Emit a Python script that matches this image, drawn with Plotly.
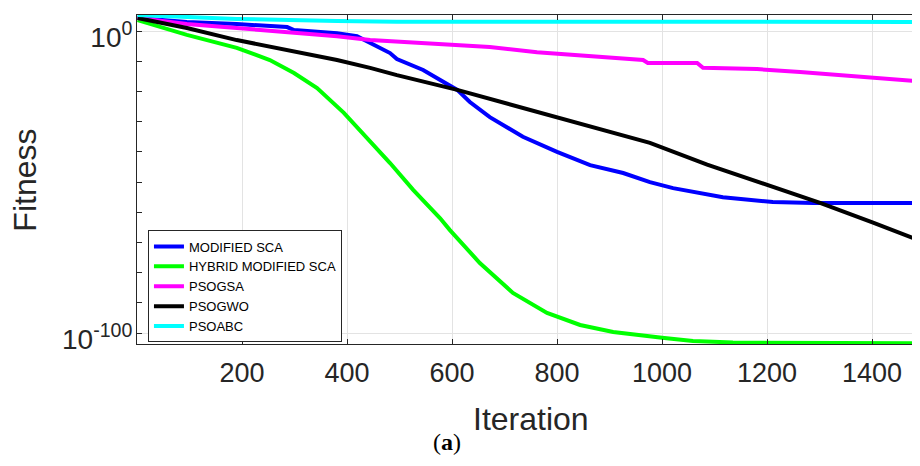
import plotly.graph_objects as go

# ---- data (fitness shown on a log axis, stored as log10) ----
series_names = ["MODIFIED SCA", "HYBRID MODIFIED SCA", "PSOGSA", "PSOGWO", "PSOABC"]

sca_iter = [1, 95, 190, 286, 299, 381, 419, 444, 482, 495, 545, 610, 634, 672, 735, 800, 863, 926, 977, 1021, 1116, 1211, 1288, 1500]
sca_log = [4.3, 3.0, 2.3, 1.3, 0.3, -0.7, -1.7, -4.0, -7.3, -9.3, -12.9, -19.5, -23.5, -28.5, -35.0, -40.0, -44.4, -47.0, -50.0, -52.0, -55.0, -56.6, -56.9, -56.9]

hyb_iter = [1, 95, 190, 253, 299, 343, 394, 438, 482, 526, 577, 596, 653, 716, 781, 844, 907, 1000, 1059, 1135, 1250, 1500]
hyb_log = [3.6, -1.3, -5.6, -9.6, -13.9, -18.9, -27.1, -35.4, -43.7, -52.6, -61.9, -65.9, -76.8, -86.7, -93.3, -97.3, -99.6, -101.5, -102.6, -103.1, -103.3, -103.4]

gsa_iter = [1, 95, 190, 286, 381, 444, 545, 672, 762, 863, 964, 973, 1067, 1078, 1181, 1263, 1358, 1410, 1500]
gsa_log = [4.3, 2.3, 1.0, -0.3, -1.7, -3.0, -4.0, -5.3, -7.0, -8.3, -9.6, -10.6, -10.6, -12.2, -12.6, -13.6, -14.9, -15.6, -16.8]

gwo_iter = [1, 95, 190, 286, 381, 444, 495, 610, 800, 895, 977, 1086, 1211, 1301, 1402, 1500]
gwo_log = [4.3, 1.0, -3.0, -6.3, -9.6, -12.2, -14.6, -19.5, -28.5, -32.8, -37.0, -44.2, -51.5, -56.9, -63.4, -70.0]

abc_iter = [1, 190, 381, 495, 1500]
abc_log = [5.3, 4.0, 3.3, 3.1, 3.0]

x_ticks = [200, 400, 600, 800, 1000, 1200, 1400]
y_major = [1e0, 1e-100]
y_major_text = ["10<sup>0</sup>", "10<sup>-100</sup>"]
y_minor = [10.0 ** (-k) for k in range(10, 100, 10)]

colors = ["#0000FF", "#00FF00", "#FF00FF", "#000000", "#00FFFF"]
iters = [sca_iter, hyb_iter, gsa_iter, gwo_iter, abc_iter]
logs = [sca_log, hyb_log, gsa_log, gwo_log, abc_log]

fig = go.Figure()
for name, xs, ls, c in zip(series_names, iters, logs, colors):
    fig.add_trace(go.Scatter(
        x=xs, y=[10.0 ** v for v in ls], mode="lines", name=name,
        line=dict(color=c, width=4),
    ))

axis_col = "#262626"
font_fam = "Liberation Sans, Arial, sans-serif"

# the page body keeps its default 8px margin, so the figure is 8px smaller
fig.update_layout(
    width=912, height=458,
    margin=dict(l=129, r=0, t=7, b=122),
    paper_bgcolor="white", plot_bgcolor="white",
    font=dict(family=font_fam, color=axis_col),
    showlegend=True,
    legend=dict(
        x=0.014, y=0.345, xanchor="left", yanchor="top",
        bgcolor="white", bordercolor=axis_col, borderwidth=1,
        font=dict(size=13, color="#000000", family=font_fam),
        itemwidth=30, tracegroupgap=0,
    ),
    xaxis=dict(
        range=[0, 1491.4], tickmode="array", tickvals=x_ticks,
        ticks="inside", ticklen=5, tickcolor=axis_col,
        showline=True, linecolor=axis_col, linewidth=1, mirror="ticks",
        showgrid=True, gridcolor="#e3e3e3", gridwidth=1, zeroline=False,
        tickfont=dict(size=27, color=axis_col),
        ticklabelstandoff=5,
    ),
    yaxis=dict(
        type="log", range=[-103.6, 5.3], tickmode="array",
        tickvals=y_major, ticktext=y_major_text,
        ticks="inside", ticklen=5, tickcolor=axis_col,
        showline=True, linecolor=axis_col, linewidth=1, mirror="ticks",
        showgrid=True, gridcolor="#e3e3e3", gridwidth=1, zeroline=False,
        tickfont=dict(size=28, color=axis_col),
        ticklabelstandoff=-2, ticklabelshift=6,
        minor=dict(tickmode="array", tickvals=y_minor, ticks="inside",
                   ticklen=5, tickcolor=axis_col, showgrid=False),
    ),
    annotations=[
        dict(text="Iteration", xref="paper", yref="paper", x=0.503, y=-0.227,
             xanchor="center", yanchor="middle", showarrow=False,
             font=dict(size=32, color=axis_col)),
        dict(text="Fitness", xref="paper", yref="paper", x=-0.1424, y=0.498,
             xanchor="center", yanchor="middle", showarrow=False, textangle=-90,
             font=dict(size=32, color=axis_col)),
        dict(text="(<b>a</b>)", xref="paper", yref="paper", x=0.396, y=-0.298,
             xanchor="center", yanchor="middle", showarrow=False,
             font=dict(size=24, color="#000000", family="Liberation Serif, serif")),
    ],
)

fig.write_html("out.html")
